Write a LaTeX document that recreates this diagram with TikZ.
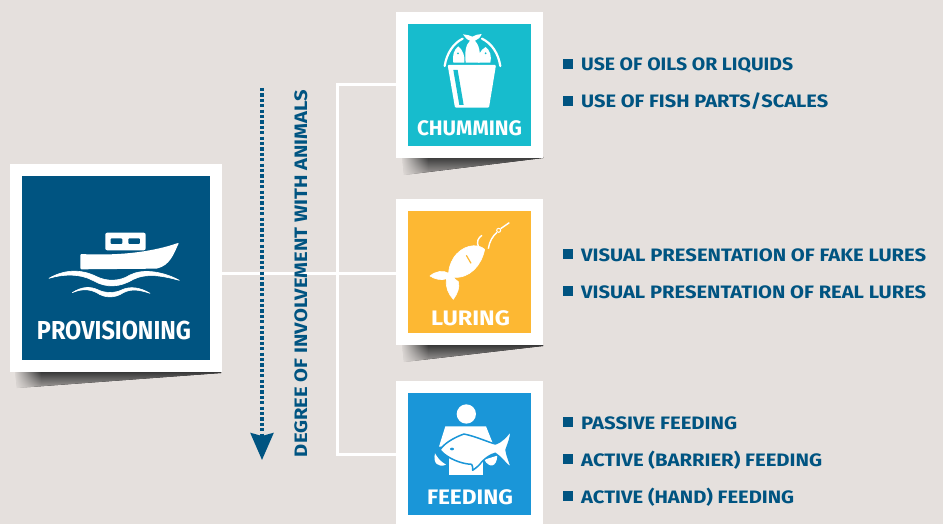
\documentclass[tikz,border=0pt]{standalone}
\usepackage{fontspec}
\usepackage{graphicx}
\setmainfont{Fira Sans}
\usetikzlibrary{arrows.meta,fadings}
\definecolor{bgc}{HTML}{E5E0DD}
\definecolor{navy}{HTML}{005481}
\definecolor{teal}{HTML}{17BCCD}
\definecolor{amber}{HTML}{FDB833}
\definecolor{sky}{HTML}{1A96D8}
\newcommand\fitw[2]{\resizebox{#1pt}{\height}{#2}}
\newcommand\dropshadow[4]{%
  \fill[top color=black!78,bottom color=bgc!72!black] (#1,#3) -- (#2,#3) -- (#2,#3+1) -- (#1+2,#4) -- cycle;
  \fill[bgc,path fading=east] (#1-2,#3) rectangle (#1+26,#4+1);}
\tikzset{
  panel/.style={draw=white,line width=12pt,inner sep=0pt},
  paneltxt/.style={text=white,font=\bfseries,inner sep=0pt,anchor=base},
  itemtxt/.style={text=navy,font=\fontsize{18}{18}\selectfont\bfseries,inner sep=0pt,anchor=base west},
  bulletbox/.style={fill=navy,minimum size=10.5pt,inner sep=0pt},
  wire/.style={draw=white,line width=3pt},
  ic/.style={x=0.3333pt,y=-0.3333pt},
  fat/.style={fill=white,draw=white,line width=0.6pt,line join=round},
}
\begin{document}
\begin{tikzpicture}[x=1pt,y=-1pt]
\useasboundingbox (0,0) rectangle (943,524);
\fill[bgc] (0,0) rectangle (943,524);
% shadows
\dropshadow{15}{221}{372}{388}
\dropshadow{402}{543}{157}{175}
\dropshadow{402}{543}{345}{362}
% panels
\node[panel,fill=navy,minimum width=200pt,minimum height=196pt] (prov) at (116,268) {};
\node[panel,fill=teal,minimum width=135pt,minimum height=134pt] (chum) at (469.5,85) {};
\node[panel,fill=amber,minimum width=135pt,minimum height=134pt] (lure) at (469.5,272) {};
\node[panel,fill=sky,minimum width=135pt,minimum height=134pt] (feed) at (469.5,454) {};
% connectors
\coordinate (jt) at (337,273);
\draw[wire] (prov.east |- jt) -- (lure.west |- jt);
\draw[wire] (chum.west) -- (chum.west -| jt) -- (feed.west -| jt) -- (feed.west);
% arrow
\coordinate (degtop) at (262,88);
\coordinate (degtip) at (262,460);
\draw[navy,line width=3.4pt,dash pattern=on 3.2pt off 2.2pt,-{Stealth[length=27pt,width=23pt,inset=3pt]}] (degtop) -- (degtip);
\node[text=navy,font=\fontsize{18}{18}\selectfont\bfseries,inner sep=0pt,anchor=base,rotate=90] (deg) at (307,273.5) {\fitw{367}{DEGREE OF INVOLVEMENT WITH ANIMALS}};
% panel labels
\node[paneltxt,font=\fontsize{26}{26}\selectfont\bfseries] (tprov) at (114,339) {\fitw{154}{PROVISIONING}};
\node[paneltxt,font=\fontsize{21}{21}\selectfont\bfseries] (tchum) at (469.5,135.5) {\fitw{105}{CHUMMING}};
\node[paneltxt,font=\fontsize{21}{21}\selectfont\bfseries] (tlure) at (470.5,325.5) {\fitw{79}{LURING}};
\node[paneltxt,font=\fontsize{21}{21}\selectfont\bfseries] (tfeed) at (470,504.5) {\fitw{86}{FEEDING}};
% list items
\node[bulletbox] (b1) at (568,64) {}; \node[itemtxt] (i1) at (581,71) {\fitw{212}{USE OF OILS OR LIQUIDS}};
\node[bulletbox] (b2) at (568,101) {}; \node[itemtxt] (i2) at (581,108) {\fitw{247}{USE OF FISH PARTS/SCALES}};
\node[bulletbox] (b3) at (568,254) {}; \node[itemtxt] (i3) at (581,261) {\fitw{345}{VISUAL PRESENTATION OF FAKE LURES}};
\node[bulletbox] (b4) at (568,291) {}; \node[itemtxt] (i4) at (581,298) {\fitw{345}{VISUAL PRESENTATION OF REAL LURES}};
\node[bulletbox] (b5) at (568,422) {}; \node[itemtxt] (i5) at (581,429) {\fitw{156}{PASSIVE FEEDING}};
\node[bulletbox] (b6) at (568,459) {}; \node[itemtxt] (i6) at (581,466) {\fitw{241}{ACTIVE (BARRIER) FEEDING}};
\node[bulletbox] (b7) at (568,496) {}; \node[itemtxt] (i7) at (581,503) {\fitw{213}{ACTIVE (HAND) FEEDING}};
% boat icon
\begin{scope}[shift={(0,150)},ic]
\fill[white,rounded corners=2pt] (316,248) rectangle (437,301);
\fill[navy,rounded corners=1pt] (332,265) rectangle (367,282);
\fill[navy,rounded corners=1pt] (385,265) rectangle (420,282);
\fill[white,rounded corners=1pt] (241,312) .. controls (360,318) and (460,305) .. (537,278) .. controls (520,315) and (510,345) .. (470,356) -- (241,358) -- cycle;
\path[fat] (147,385) .. controls (190,360) and (240,355) .. (290,380) .. controls (320,395) and (360,395) .. (390,375) .. controls (430,355) and (490,365) .. (538,391) .. controls (490,378) and (440,368) .. (400,388) .. controls (360,412) and (320,415) .. (280,392) .. controls (240,370) and (190,372) .. (147,385) -- cycle;
\path[fat] (217,428) .. controls (245,410) and (270,408) .. (295,420) .. controls (315,430) and (345,430) .. (365,420) .. controls (390,408) and (420,412) .. (450,430) .. controls (420,420) and (395,415) .. (370,428) .. controls (345,445) and (315,445) .. (290,428) .. controls (265,415) and (240,418) .. (217,428) -- cycle;
\end{scope}
% bucket icon
\begin{scope}[shift={(390,0)},ic]
\draw[white,line width=2.2pt,line cap=round] (164,198) .. controls (170,160) and (190,130) .. (218,116);
\draw[white,line width=2.2pt,line cap=round] (276,116) .. controls (305,130) and (325,160) .. (331,198);
\fill[white,rounded corners=1pt] (173,195) -- (318,195) -- (297,323) -- (195,323) -- cycle;
\fill[teal] (190,210) -- (203,210) -- (221,315) -- (208,315) -- cycle;
% fish
\fill[white] (227,188) .. controls (224,160) and (226,135) .. (240,122) .. controls (232,120) and (224,112) .. (219,103) .. controls (230,105) and (240,105) .. (247,110) .. controls (254,105) and (265,103) .. (275,102) .. controls (271,112) and (264,120) .. (255,122) .. controls (268,135) and (272,160) .. (269,188) -- cycle;
\fill[white] (190,188) .. controls (187,165) and (191,150) .. (205,139) .. controls (218,150) and (226,168) .. (223,188) -- cycle;
\fill[white] (264,188) .. controls (263,168) and (270,150) .. (287,141) .. controls (300,150) and (306,170) .. (301,188) -- cycle;
\fill[teal] (204,160) circle[radius=3];
\fill[teal] (287,160) circle[radius=3];
\end{scope}
% lure icon
\begin{scope}[shift={(390,190)},ic]
\path[fat] (284,178) .. controls (262,158) and (215,165) .. (190,205) .. controls (180,222) and (176,238) .. (176,250) .. controls (160,240) and (138,243) .. (120,258) .. controls (135,268) and (155,272) .. (170,266) .. controls (165,290) and (175,312) .. (190,328) .. controls (203,310) and (210,292) .. (205,275) .. controls (197,270) and (192,265) .. (190,262) .. controls (240,266) and (275,225) .. (284,178) -- cycle;
\draw[amber,line width=1.2pt] (229,196) -- (243,220);
\draw[white,line width=1.4pt] (266,172) .. controls (258,155) and (265,143) .. (276,136);
\draw[white,line width=1.4pt] (295,176) .. controls (298,155) and (308,138) .. (321,127);
\draw[white,line width=1pt] (326,121) circle[radius=6];
\draw[white,line width=1.4pt] (332,116) -- (358,98);
\end{scope}
% feeding icon
\begin{scope}[shift={(390,374)},ic]
\fill[white] (229,120) circle[radius=29];
\fill[white] (166,157) -- (288,157) -- (310,212) -- (147,218) -- cycle;
\fill[white] (178,235) rectangle (278,302);
\fill[white] (135,238) .. controls (128,268) and (145,282) .. (168,272) .. controls (150,262) and (142,250) .. (135,238) -- cycle;
\fill[white] (283,257) .. controls (296,282) and (320,282) .. (322,245) -- cycle;
\draw[sky,line width=1.5pt,fill=white,line join=round] (150,228) .. controls (165,203) and (205,186) .. (222,180) .. controls (260,188) and (290,203) .. (316,210) .. controls (335,203) and (350,188) .. (362,170) .. controls (364,190) and (354,210) .. (348,228) .. controls (352,250) and (360,265) .. (365,284) .. controls (345,267) and (330,247) .. (316,238) .. controls (300,242) and (287,252) .. (275,264) .. controls (270,272) and (258,282) .. (248,289) .. controls (248,281) and (248,275) .. (245,271) .. controls (215,270) and (172,254) .. (150,228) -- cycle;
\fill[sky] (186,225) ellipse[x radius=6,y radius=4];
\end{scope}
\end{tikzpicture}
\end{document}
